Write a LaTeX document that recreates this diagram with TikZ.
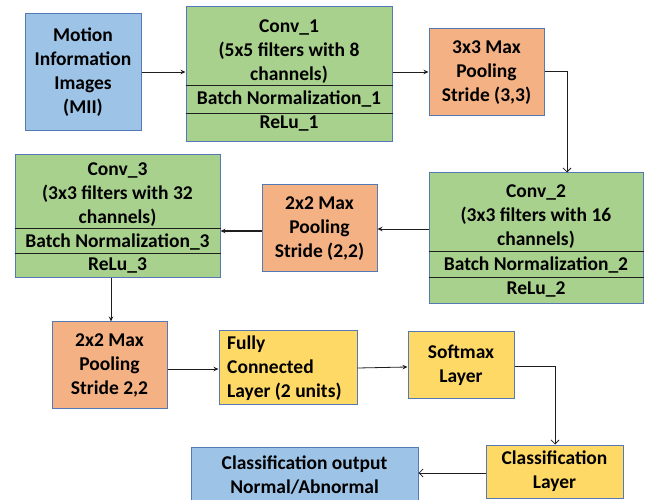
\documentclass[tikz,border=0pt]{standalone}
\usepackage{fontspec}
\setmainfont{Carlito}
\usetikzlibrary{arrows.meta}
\definecolor{cblue}{HTML}{9DC3E6}
\definecolor{cgreen}{HTML}{A9D18E}
\definecolor{corange}{HTML}{F4B183}
\definecolor{cyellow}{HTML}{FFD966}
\definecolor{bordc}{HTML}{5579B4}
\definecolor{linec}{HTML}{1E1E1E}
\begin{document}
\begin{tikzpicture}[x=1pt,y=-1pt,
  blk/.style={draw=bordc, line width=1pt, inner sep=0pt, align=center,
    font=\fontsize{19.5}{24}\selectfont\bfseries},
  txt/.style={inner sep=0pt, align=center, font=\fontsize{19.5}{24}\selectfont\bfseries},
  arr/.style={draw=linec, line width=0.8pt, -{Stealth[length=5pt,width=4.5pt]}},
  oarr/.style={draw=linec, line width=0.8pt, -{Straight Barb[length=4pt,width=8pt]}},
  divl/.style={draw=linec, line width=0.9pt}]
\useasboundingbox (0,0) rectangle (649,500);

% Row 1
\node[blk, fill=cblue, minimum width=116pt, minimum height=117pt] (mii) at (83,72.5)
  {Motion\\Information\\Images\\(MII)};
\node[blk, fill=cgreen, minimum width=206pt, minimum height=135pt] (conv1) at (289,74.5) {};
\draw[divl] (conv1.west |- 0,85) -- (conv1.east |- 0,85);
\draw[divl] (conv1.west |- 0,113) -- (conv1.east |- 0,113);
\node[txt] (c1t) at (289,51.5) {Conv\_1\\(5x5 filters with 8\\channels)};
\node[txt] (c1b) at (289,99) {Batch Normalization\_1};
\node[txt] (c1r) at (289,124) {ReLu\_1};
\node[blk, fill=corange, minimum width=115pt, minimum height=87pt] (pool1) at (486.5,72.5)
  {3x3 Max\\Pooling\\Stride (3,3)};

% Row 2
\node[blk, fill=cgreen, minimum width=214pt, minimum height=131pt] (conv2) at (536,238.5) {};
\draw[divl] (conv2.west |- 0,251) -- (conv2.east |- 0,251);
\draw[divl] (conv2.west |- 0,277) -- (conv2.east |- 0,277);
\node[txt] (c2t) at (536,217) {Conv\_2\\(3x3 filters with 16\\channels)};
\node[txt] (c2b) at (536,265) {Batch Normalization\_2};
\node[txt] (c2r) at (536,289) {ReLu\_2};
\node[blk, fill=corange, minimum width=115pt, minimum height=87pt] (pool2) at (319.5,228.5)
  {2x2 Max\\Pooling\\Stride (2,2)};
\node[blk, fill=cgreen, minimum width=205pt, minimum height=123pt] (conv3) at (117.5,216.5) {};
\draw[divl] (conv3.west |- 0,228) -- (conv3.east |- 0,228);
\draw[divl] (conv3.west |- 0,253) -- (conv3.east |- 0,253);
\node[txt] (c3t) at (117.5,194.5) {Conv\_3\\(3x3 filters with 32\\channels)};
\node[txt] (c3b) at (117.5,242) {Batch Normalization\_3};
\node[txt] (c3r) at (117.5,265.5) {ReLu\_3};

% Row 3
\node[blk, fill=corange, minimum width=115pt, minimum height=86pt] (pool3) at (109.5,365)
  {2x2 Max\\Pooling\\Stride 2,2};
\node[blk, fill=cyellow, minimum width=138pt, minimum height=73pt] (fc) at (288,367.5) {};
\node[txt, align=left, anchor=west] (fct) at (227,368.5) {Fully\\Connected\\Layer (2 units)};
\node[blk, fill=cyellow, minimum width=106pt, minimum height=66pt] (soft) at (461,365)
  {Softmax\\Layer};

% Row 4
\node[blk, fill=cyellow, minimum width=137pt, minimum height=53pt] (cls) at (554.5,471.5)
  {Classification\\Layer};
\node[blk, fill=cblue, minimum width=227pt, minimum height=56pt] (out) at (304.5,475)
  {Classification output\\Normal/Abnormal};

% Connectors
\draw[arr] (mii.east |- 0,72) -- (conv1.west |- 0,72);
\draw[arr] (conv1.east |- 0,72) -- (pool1.west |- 0,72);
\draw[oarr] (pool1.east |- 0,71) -| (conv2.north -| 567,0);
\draw[arr] (conv2.west |- 0,229) -- (pool2.east |- 0,229);
\draw[arr, line width=1.2pt] (pool2.west |- 0,231) -- (conv3.east |- 0,231);
\draw[arr] (conv3.south -| 111,0) -- (pool3.north -| 111,0);
\draw[arr] (pool3.east |- 0,369) -- (fc.west |- 0,369);
\draw[arr] (fc.east |- 0,368) -- (soft.west |- 0,367);
\draw[oarr] (soft.east |- 0,366) -| (cls.north -| 555,0);
\draw[oarr] (cls.west |- 0,473) -- (out.east |- 0,473);
\end{tikzpicture}
\end{document}
